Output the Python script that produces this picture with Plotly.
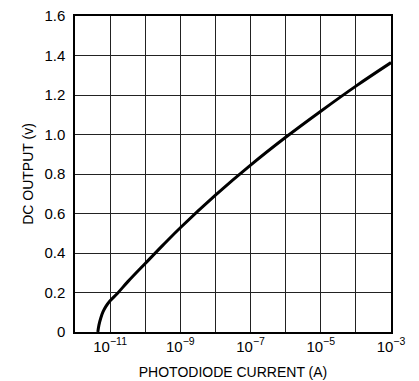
import plotly.graph_objects as go

# Photodiode current (A) and DC output (V)
current = [4.47e-12, 4.8e-12, 5.4e-12, 6.3e-12, 7.6e-12, 1.0e-11, 1.66e-11, 3.2e-11,
           1.0e-10, 3.2e-10, 1.0e-9, 1.0e-8, 1.0e-7, 1.0e-6, 1.0e-5,
           1.0e-4, 1.0e-3]
dc_output = [0.0, 0.035, 0.07, 0.103, 0.13, 0.158, 0.198, 0.255,
             0.347, 0.44, 0.528, 0.693, 0.845, 0.986, 1.118,
             1.245, 1.364]

x_grid = [1e-12, 1e-11, 1e-10, 1e-9, 1e-8, 1e-7, 1e-6, 1e-5, 1e-4, 1e-3]
x_text = ["", "10<sup>−11</sup>", "", "10<sup>−9</sup>", "", "10<sup>−7</sup>", "",
          "10<sup>−5</sup>", "", "10<sup>−3</sup>"]
y_vals = [0, 0.2, 0.4, 0.6, 0.8, 1.0, 1.2, 1.4, 1.6]
y_text = ["0", "0.2", "0.4", "0.6", "0.8", "1.0", "1.2", "1.4", "1.6"]

FONT = "Liberation Sans, Arial, sans-serif"

fig = go.Figure()
fig.add_trace(go.Scatter(x=current, y=dc_output, mode="lines",
                         line=dict(color="black", width=3, shape="spline", smoothing=1.0),
                         showlegend=False, hoverinfo="skip"))

fig.update_layout(
    width=419, height=381,
    margin=dict(l=75, r=28, t=16, b=49),
    paper_bgcolor="white", plot_bgcolor="white",
    font=dict(family=FONT, size=15, color="black"),
)
fig.update_xaxes(type="log", range=[-12, -3], tickvals=x_grid, ticktext=x_text,
                 showgrid=True, gridcolor="#222", gridwidth=1,
                 showline=True, linecolor="black", linewidth=1.5, mirror=True,
                 ticks="", zeroline=False, automargin=False,
                 title=dict(text="PHOTODIODE CURRENT (A)", font=dict(size=14), standoff=13),
                 tickfont=dict(size=15))
fig.update_yaxes(range=[0, 1.6], tickvals=y_vals, ticktext=y_text,
                 showgrid=True, gridcolor="#222", gridwidth=1,
                 showline=True, linecolor="black", linewidth=1.5, mirror=True,
                 ticks="", zeroline=False, automargin=False, ticklabelstandoff=5,
                 title=dict(text="DC OUTPUT (v)", font=dict(size=14), standoff=7),
                 tickfont=dict(size=15))

fig.write_html("out.html", config={"displayModeBar": False},
               post_script="document.body.style.margin='0';document.body.style.overflow='hidden';")
